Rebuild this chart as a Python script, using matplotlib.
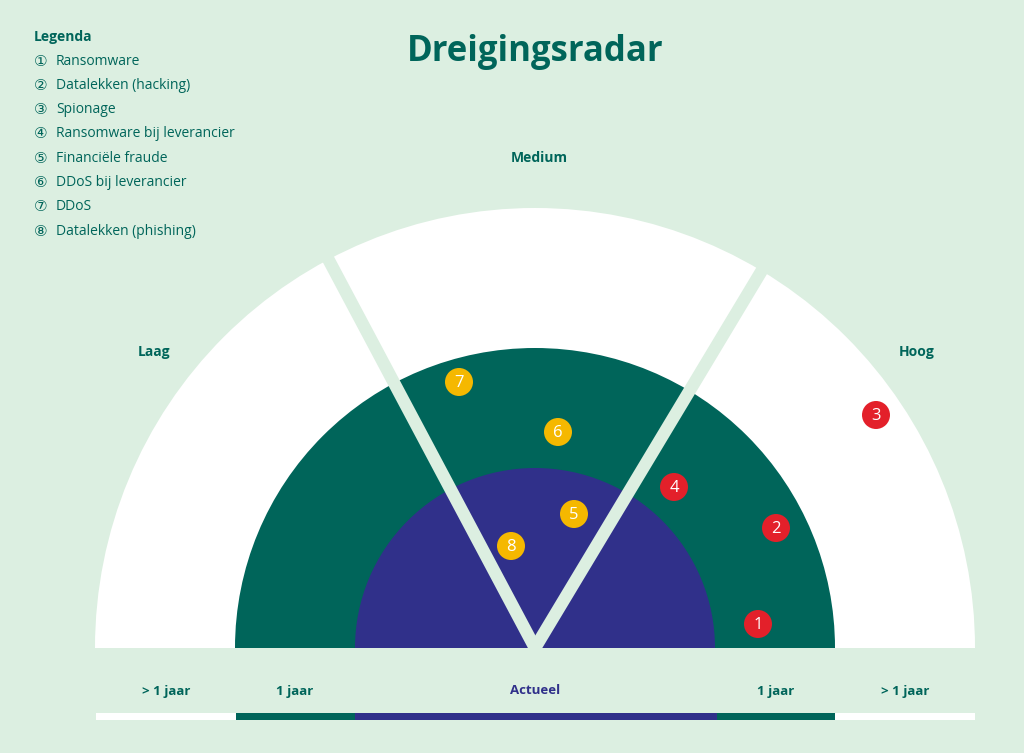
import numpy as np
import matplotlib.pyplot as plt
from matplotlib.patches import Wedge, Rectangle, Circle

# ------ data ------
legend_items = ["Ransomware", "Datalekken (hacking)", "Spionage",
                "Ransomware bij leverancier", "Financiële fraude",
                "DDoS bij leverancier", "DDoS", "Datalekken (phishing)"]
threat_ids = [1, 2, 3, 4, 5, 6, 7, 8]
threat_x = [758, 776, 876, 674, 574, 558, 459, 511]
threat_y = [624, 528, 415, 487, 514, 432, 382, 546]
threat_level = ["hoog", "hoog", "hoog", "hoog", "medium", "medium", "medium", "medium"]
sector_labels = ["Laag", "Medium", "Hoog"]
time_labels = ["> 1 jaar", "1 jaar", "Actueel", "1 jaar", "> 1 jaar"]

# ------ style ------
BG = "#dcefe1"
GREEN = "#00655a"
PURPLE = "#30308a"
RED = "#e3202a"
YELLOW = "#f5b800"
level_color = {"hoog": RED, "medium": YELLOW}

cx, cy = 535, 648
r_out, r_mid, r_in = 440, 300, 180
split_left, split_right = 118, 59

fig = plt.figure(figsize=(10.24, 7.53), dpi=100, facecolor=BG)
ax = fig.add_axes([0, 0, 1, 1])
ax.set_xlim(0, 1024)
ax.set_ylim(753, 0)
ax.axis("off")
ax.set_facecolor(BG)

# semicircle rings (y axis inverted -> angles negative)
for r, c in [(r_out, "white"), (r_mid, GREEN), (r_in, PURPLE)]:
    ax.add_patch(Wedge((cx, cy), r, 180, 360, facecolor=c, edgecolor="none"))

# sector separators
for a in [split_left, split_right]:
    t = np.radians(a)
    ax.plot([cx, cx + 460 * np.cos(t)], [cy, cy - 460 * np.sin(t)],
            color=BG, lw=9, solid_capstyle="butt")

# bottom bar
bar_segs = [(96, 236, "white"), (236, 355, GREEN), (355, 717, PURPLE),
            (717, 835, GREEN), (835, 975, "white")]
for x0, x1, c in bar_segs:
    ax.add_patch(Rectangle((x0, 713), x1 - x0, 7, facecolor=c, edgecolor="none"))

for x, lab in zip([166, 295, 535, 776, 905], time_labels):
    ax.text(x, 691, lab, ha="center", va="center", fontsize=9.5, fontweight="bold",
            color=PURPLE if lab == "Actueel" else GREEN, family="Open Sans")

for (x, y), lab in zip([(154, 352), (539, 158), (917, 352)], sector_labels):
    ax.text(x, y, lab, ha="center", va="center", fontsize=10, fontweight="bold",
            color=GREEN, family="Open Sans")

# threats
for i, x, y, lvl in zip(threat_ids, threat_x, threat_y, threat_level):
    ax.add_patch(Circle((x, y), 14, facecolor=level_color[lvl], edgecolor="none"))
    ax.text(x, y + 1, str(i), ha="center", va="center", fontsize=12,
            color="white", family="Open Sans")

# title
ax.text(535, 52, "Dreigingsradar", ha="center", va="center", fontsize=25,
        fontweight="bold", color=GREEN, family="Open Sans")

# legend
ax.text(34, 37, "Legenda", ha="left", va="center", fontsize=10, fontweight="bold",
        color=GREEN, family="Open Sans")
circled = "①②③④⑤⑥⑦⑧"
for k, item in enumerate(legend_items):
    y = 61 + k * 24.3
    ax.text(34, y, circled[k], ha="left", va="center", fontsize=11,
            color=GREEN, family=["DejaVu Sans"])
    ax.text(56, y, item, ha="left", va="center", fontsize=10,
            color=GREEN, family="Open Sans")

fig.savefig("out.png", dpi=100, facecolor=BG)
